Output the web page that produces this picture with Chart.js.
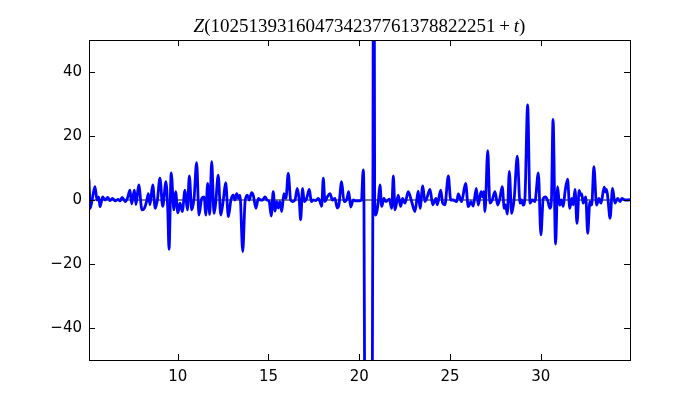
<!DOCTYPE html>
<html>
<head>
<meta charset="utf-8">
<script src="https://cdn.jsdelivr.net/npm/chart.js@4/dist/chart.umd.min.js"></script>
<style>
  html, body { margin: 0; padding: 0; background: #fff; }
  #wrap { width: 700px; height: 400px; }
</style>
</head>
<body>
<div id="wrap"><canvas id="myChart" width="700" height="400"></canvas></div>
<script>
// Z(N + t) の値
var t = [5.11, 5.18, 5.28, 5.44, 5.55, 5.64, 5.72, 5.86, 5.99, 6.14, 6.27, 6.40, 6.56, 6.71, 6.82, 6.93, 7.04, 7.11, 7.24, 7.37,
  7.46, 7.61, 7.70, 7.85, 8.03, 8.16, 8.28, 8.38, 8.47, 8.62, 8.76, 8.88, 9.02, 9.17, 9.35, 9.45, 9.52, 9.64, 9.79, 9.88,
  10.01, 10.12, 10.25, 10.40, 10.53, 10.64, 10.77, 10.90, 11.04, 11.17, 11.32, 11.46, 11.54, 11.65, 11.76, 11.87, 12.00, 12.09, 12.23, 12.37,
  12.51, 12.64, 12.79, 12.93, 13.06, 13.15, 13.25, 13.34, 13.43, 13.58, 13.71, 13.83, 13.94, 14.07, 14.16, 14.31, 14.44, 14.56, 14.68, 14.81,
  14.92, 15.04, 15.15, 15.26, 15.36, 15.45, 15.54, 15.63, 15.73, 15.85, 15.96, 16.09, 16.22, 16.33, 16.46, 16.59, 16.70, 16.77, 16.88, 16.97,
  17.10, 17.25, 17.36, 17.47, 17.59, 17.74, 17.84, 17.93, 18.02, 18.11, 18.24, 18.39, 18.52, 18.66, 18.79, 18.88, 19.03, 19.16, 19.31, 19.42,
  19.53, 19.67, 19.82, 19.99, 20.12, 20.22, 20.26, 20.30, 20.37, 20.51, 20.65, 20.72, 20.75, 20.78, 20.80, 20.82, 20.85, 20.91, 21.05, 21.14,
  21.24, 21.36, 21.47, 21.66, 21.79, 21.88, 21.97, 22.15, 22.28, 22.39, 22.52, 22.70, 22.88, 23.07, 23.25, 23.35, 23.50, 23.62, 23.72, 23.90,
  24.05, 24.23, 24.30, 24.49, 24.60, 24.72, 24.91, 25.04, 25.17, 25.37, 25.46, 25.64, 25.86, 26.01, 26.16, 26.28, 26.45, 26.56, 26.71, 26.79,
  26.86, 26.93, 27.08, 27.20, 27.33, 27.48, 27.63, 27.75, 27.88, 27.99, 28.06, 28.16, 28.27, 28.40, 28.54, 28.71, 28.86, 28.94, 29.04, 29.13,
  29.28, 29.41, 29.53, 29.68, 29.87, 30.01, 30.14, 30.27, 30.40, 30.51, 30.59, 30.68, 30.82, 30.93, 31.04, 31.14, 31.24, 31.34, 31.48, 31.60,
  31.71, 31.79, 31.89, 32.00, 32.12, 32.19, 32.26, 32.34, 32.48, 32.59, 32.71, 32.81, 32.93, 33.08, 33.21, 33.32, 33.50, 33.57, 33.63, 33.71,
  33.82, 33.96, 34.09, 34.24, 34.37, 34.47, 34.64, 34.82, 34.92];
var z = [6.5, -2.6, 0, 4.2, 0, 1.0, -2.1, 1.0, 0, 0.8, -0.2, 0.5, -0.3, 0.2, -0.3, 0.8, 0, -0.5, 0.8, 3.1,
  -1.2, 3.1, -1.4, 4.7, -3.1, -2.6, -0.5, 2.0, -1.5, 4.7, -2.6, 0, 6.8, -2.0, 5.7, -3.0, -15.4, 8.5, -3.1, 2.6,
  -4.0, -1.0, -3.6, 3.1, -3.1, 7.5, -3.1, 0.5, 11.7, -4.7, 0.5, 1.0, -4.7, 5.2, -4.5, 12.0, -4.2, -1.0, 7.8, -4.7,
  0, 5.4, -5.2, 0, 1.5, 0, 2.0, 0.5, 1.5, -16.1, -0.5, 1.5, 0, 2.3, 1.5, -2.6, 0.5, 0, 0, 1.0,
  0, -0.5, -5.0, 2.6, -3.5, -0.5, -2.5, -0.5, -3.6, 2.0, 0.5, 8.3, 0, -0.5, 0, 3.6, -0.5, -6.2, 3.6, -0.5,
  0.5, 3.3, -0.5, 0, -0.2, 0.5, -0.5, -2.0, 6.8, -0.5, 1.0, 2.0, 0, 0.5, -2.5, -1.5, 5.7, -0.5, 0.2, 2.6,
  -2.2, 0, -0.3, -0.3, 0, 9.4, 0, -60, -250, -400, -250, -60, 0, 100, 400, 100, 0, -4.7, -0.5, 4.7,
  -2.0, 0.5, -0.5, 0.3, -2.6, 7.5, -3.1, 1.5, -2.0, 0.5, -1.0, 2.6, -0.3, -3.6, 2.8, -2.6, 4.4, -0.5, 0.5, 3.3,
  -1.5, 0.5, -1.5, 3.1, -1.0, -1.5, 7.5, 0, 0, -0.5, 1.9, -0.5, 5.2, -2.1, -0.5, -1.9, 3.6, -1.6, 2.6, 1.0,
  2.6, -3.6, 15.4, -1.0, 0, 2.6, -1.6, 0.5, 4.2, -2.6, -1.5, -4.4, 8.9, -4.2, 0.5, 13.7, -1.0, 0, -1.6, 0.5,
  29.7, -1.0, 0, -0.5, 8.5, -10.9, 0.5, 1.0, -0.5, -2.6, 0, 25.2, -13.8, 4.2, -1.6, 0, -2.0, 2.6, 6.5, -2.6,
  0.5, -1.5, 3.3, -7.3, 3.0, 1.5, 1.9, -1.0, 1.0, -10.4, -0.5, -1.6, 10.4, -1.6, 0.5, -1.0, 4.0, 2.5, 3.3, 0,
  -5.7, 3.6, -1.0, 0.5, -0.5, 0.5, 0, 0, 0.2];
var xTicks = [10, 15, 20, 25, 30];
var yTicks = [-40, -20, 0, 20, 40];
var xMin = 5.11, xMax = 34.92;
var yMin = -50, yMax = 50;

var points = t.map(function (v, i) { return { x: v, y: z[i] }; });

// 枠・内向きの目盛り・タイトル
var framePlugin = {
  id: 'frame',
  afterDraw: function (chart) {
    var c = chart.ctx, a = chart.chartArea;
    var xs = chart.scales.x, ys = chart.scales.y;
    c.save();
    c.strokeStyle = '#000';
    c.lineWidth = 1;
    xTicks.forEach(function (v) {
      var px = Math.round(xs.getPixelForValue(v)) + 0.5;
      c.beginPath();
      c.moveTo(px, a.bottom); c.lineTo(px, a.bottom - 6);
      c.moveTo(px, a.top); c.lineTo(px, a.top + 6);
      c.stroke();
    });
    yTicks.forEach(function (v) {
      var py = Math.round(ys.getPixelForValue(v)) + 0.5;
      c.beginPath();
      c.moveTo(a.left, py); c.lineTo(a.left + 6, py);
      c.moveTo(a.right, py); c.lineTo(a.right - 6, py);
      c.stroke();
    });
    c.strokeRect(Math.round(a.left) + 0.5, Math.round(a.top) + 0.5,
      Math.round(a.right - a.left), Math.round(a.bottom - a.top));

    // タイトル
    var parts = [
      ['italic 19px "Liberation Serif"', 'Z'],
      ['19px "Liberation Serif"', '(102513931604734237761378822251'],
      ['19px "Liberation Serif"', '\u2009+\u2009'],
      ['italic 19px "Liberation Serif"', 't'],
      ['19px "Liberation Serif"', ')']
    ];
    var total = 0;
    parts.forEach(function (p) { c.font = p[0]; total += c.measureText(p[1]).width; });
    var x = (a.left + a.right) / 2 - total / 2;
    c.fillStyle = '#000';
    c.textBaseline = 'alphabetic';
    parts.forEach(function (p) {
      c.font = p[0];
      c.fillText(p[1], x, 32);
      x += c.measureText(p[1]).width;
    });
    c.restore();
  }
};

var ctx = document.getElementById('myChart').getContext('2d');
var myChart = new Chart(ctx, {
  type: 'line',
  data: {
    datasets: [
      {
        data: points,
        borderColor: '#0000ff',
        borderWidth: 2.8,
        pointRadius: 0,
        cubicInterpolationMode: 'monotone',
        clip: 0
      },
      {
        data: [{ x: xMin, y: 0 }, { x: xMax, y: 0 }],
        borderColor: '#000',
        borderWidth: 1,
        pointRadius: 0
      }
    ]
  },
  options: {
    responsive: false,
    animation: false,
    layout: { padding: { top: 40, right: 70, left: 0, bottom: 0 } },
    plugins: { legend: { display: false }, tooltip: { enabled: false } },
    scales: {
      x: {
        type: 'linear',
        min: xMin,
        max: xMax,
        afterBuildTicks: function (s) { s.ticks = xTicks.map(function (v) { return { value: v }; }); },
        afterFit: function (s) { s.height = 40; },
        grid: { display: false, drawTicks: false },
        border: { display: false },
        ticks: {
          padding: 8,
          color: '#000',
          font: { family: 'DejaVu Sans', size: 15 },
          maxRotation: 0
        }
      },
      y: {
        min: yMin,
        max: yMax,
        afterBuildTicks: function (s) { s.ticks = yTicks.map(function (v) { return { value: v }; }); },
        afterFit: function (s) { s.width = 89; },
        grid: { display: false, drawTicks: false },
        border: { display: false },
        ticks: {
          padding: 7,
          color: '#000',
          font: { family: 'DejaVu Sans', size: 15 },
          callback: function (v) { return v < 0 ? '\u2212' + Math.abs(v) : String(v); }
        }
      }
    }
  },
  plugins: [framePlugin]
});
</script>
</body>
</html>
